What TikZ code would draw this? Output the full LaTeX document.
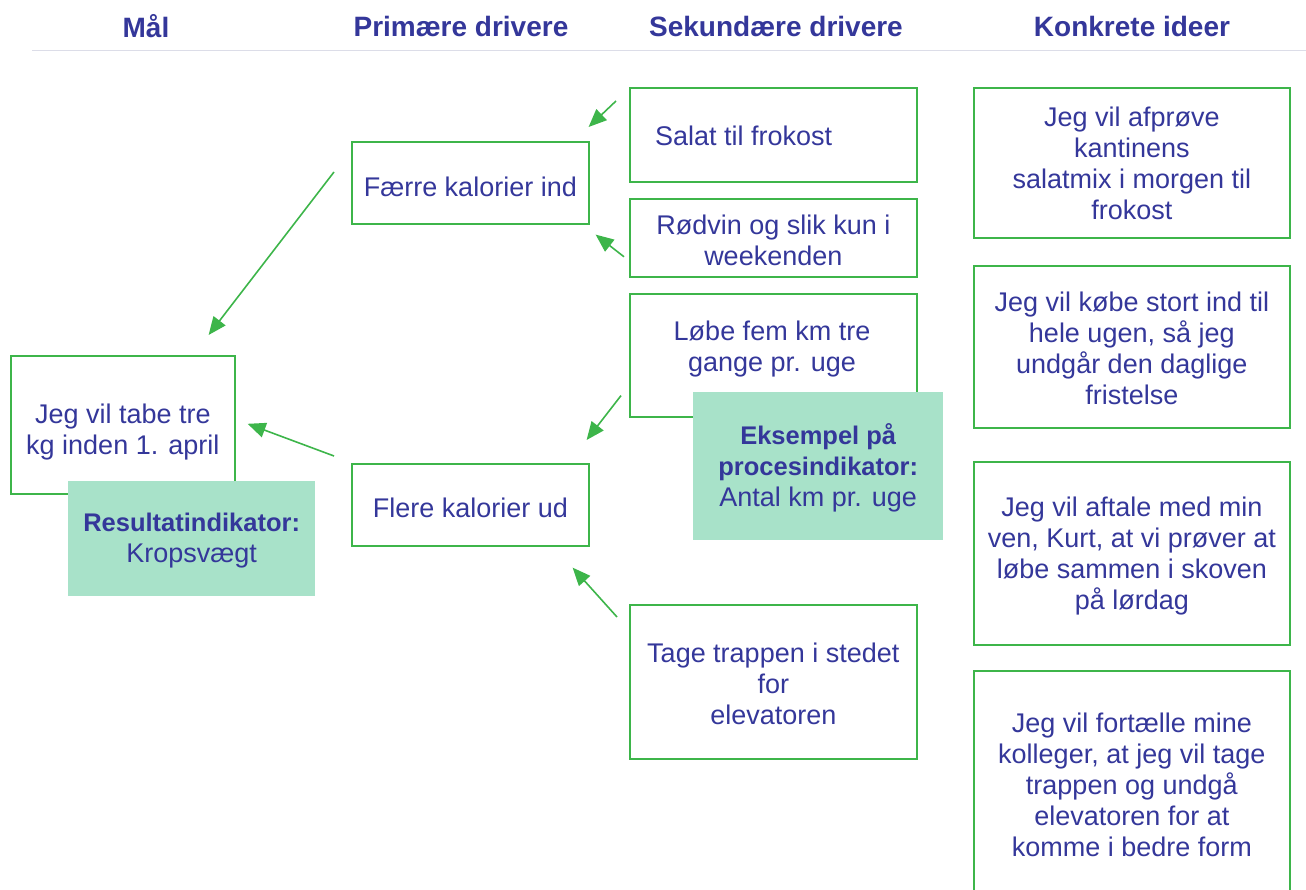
\documentclass[tikz,border=0pt]{standalone}
\usepackage{fontspec}
\setmainfont{Liberation Sans}
\usetikzlibrary{arrows.meta,calc}
\definecolor{ink}{HTML}{34379A}
\definecolor{grn}{HTML}{3DB54A}
\definecolor{mint}{HTML}{A8E2C9}
\definecolor{rulec}{HTML}{DCDDE8}
\tikzset{
  box/.style={draw=grn, line width=1.6pt, inner sep=0pt, anchor=north west},
  indbox/.style={fill=mint, draw=none, inner sep=0pt, anchor=north west},
  txt/.style={text=ink, align=center, inner sep=0pt, font=\fontsize{27}{31}\selectfont},
  head/.style={text=ink, inner sep=0pt, font=\fontsize{28}{32}\selectfont\bfseries},
  arr/.style={draw=grn, line width=1.6pt, -{Triangle[length=18pt,width=15pt]}},
}
\newcommand{\bl}[1]{{\fontsize{25.5}{31}\selectfont\bfseries #1}}
\begin{document}
\begin{tikzpicture}[x=1pt,y=-1pt]
\useasboundingbox (0,0) rectangle (1306,890);
% headers
\node[head] (h1) at (146,26) {Mål};
\node[head] (h2) at (461,26) {Primære drivere};
\node[head] (h3) at (776,26) {Sekundære drivere};
\node[head] (h4) at (1132,26) {Konkrete ideer};
\draw[rulec, line width=1pt] (32,51) -- (1306,51);

% goal
\node[box, minimum width=224pt, minimum height=138pt] (goal) at (10,355) {};
\node[txt] (goalt) at ($(goal.center)+(0,7)$) {Jeg vil tabe tre\\kg inden 1. april};
\node[indbox, minimum width=247pt, minimum height=115pt] (res) at (68,481) {};
\node[txt] (rest) at ($(res.center)+(0,2)$) {\bl{Resultatindikator:}\\Kropsvægt};

% primary drivers
\node[box, minimum width=237pt, minimum height=82pt] (faerre) at (351,141) {};
\node[txt] (faerret) at ($(faerre.center)+(0,4)$) {Færre kalorier ind};
\node[box, minimum width=237pt, minimum height=82pt] (flere) at (351,463) {};
\node[txt] (fleret) at ($(flere.center)+(0,3)$) {Flere kalorier ud};

% secondary drivers
\node[box, minimum width=287pt, minimum height=94pt] (salat) at (629,87) {};
\node[txt, anchor=west] (salatt) at ($(salat.west)+(26,1)$) {Salat til frokost};
\node[box, minimum width=287pt, minimum height=78pt] (rodvin) at (629,198) {};
\node[txt] (rodvint) at ($(rodvin.center)+(0,3)$) {Rødvin og slik kun i\\weekenden};
\node[box, minimum width=287pt, minimum height=123pt] (loebe) at (629,293) {};
\node[txt] (loebet) at (772,349) {Løbe fem km tre\\gange pr. uge};
\node[indbox, minimum width=250pt, minimum height=148pt] (proc) at (693,392) {};
\node[txt] (proct) at ($(proc.center)+(0,2)$) {\bl{Eksempel på}\\\bl{procesindikator:}\\Antal km pr. uge};
\node[box, minimum width=287pt, minimum height=154pt] (tage) at (629,604) {};
\node[txt] (taget) at ($(tage.center)+(0,2)$) {Tage trappen i stedet\\for\\elevatoren};

% concrete ideas
\node[box, minimum width=316pt, minimum height=150pt] (k1) at (973,87) {};
\node[txt] (k1t) at ($(k1.center)+(0,1)$) {Jeg vil afprøve\\kantinens\\salatmix i morgen til\\frokost};
\node[box, minimum width=316pt, minimum height=162pt] (k2) at (973,265) {};
\node[txt] (k2t) at ($(k2.center)+(0,2)$) {Jeg vil købe stort ind til\\hele ugen, så jeg\\undgår den daglige\\fristelse};
\node[box, minimum width=316pt, minimum height=183pt] (k3) at (973,461) {};
\node[txt] (k3t) at ($(k3.center)+(0,3)$) {Jeg vil aftale med min\\ven, Kurt, at vi prøver at\\løbe sammen i skoven\\på lørdag};
\node[box, minimum width=316pt, minimum height=228pt] (k4) at (973,670) {};
\node[txt] (k4t) at ($(k4.center)+(0,0)$) {Jeg vil fortælle mine\\kolleger, at jeg vil tage\\trappen og undgå\\elevatoren for at\\komme i bedre form};

% arrows
\draw[arr] ($(faerre.north west)+(-17,31)$) -- ($(goal.north east)+(-27,-20)$);
\draw[arr] ($(flere.north west)+(-17,-7)$) -- ($(goal.east)+(12,-1)$);
\draw[arr] ($(salat.north west)+(-13,14)$) -- ($(faerre.north east)+(-1,-14)$);
\draw[arr] ($(rodvin.west)+(-5,19)$) -- ($(faerre.south east)+(6,10)$);
\draw[arr] ($(loebe.south west)+(-8,-22)$) -- ($(flere.north east)+(-3,-23)$);
\draw[arr] ($(tage.north west)+(-12,13)$) -- ($(flere.south east)+(-17,21)$);
\end{tikzpicture}
\end{document}
